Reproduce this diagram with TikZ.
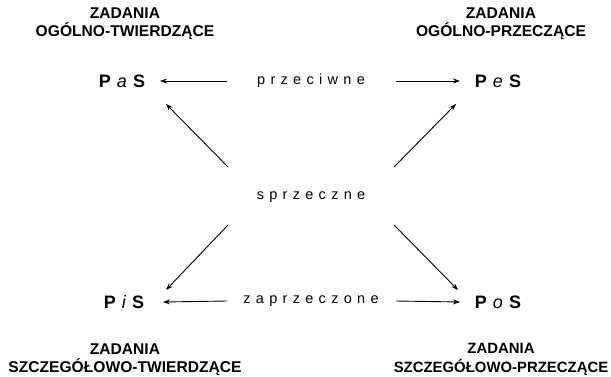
\documentclass[tikz,border=0pt]{standalone}
\usepackage{fontspec}
\setmainfont{Liberation Sans}
\usetikzlibrary{arrows.meta}
\newlength\spgap
\setlength\spgap{5.3pt}
\def\sptext#1{\sptextA#1\relax}
\def\sptextA#1#2{#1\ifx\relax#2\else\hspace{\spgap}\expandafter\sptextA\expandafter#2\fi}
\newcommand\prop[1]{{\bfseries P}\hspace{6pt}\textit{#1}\hspace{6pt}{\bfseries S}}
\begin{document}
\begin{tikzpicture}[x=1pt,y=-1pt,
  header/.style={align=center,font=\fontsize{15.6}{18.3}\selectfont\bfseries,inner sep=0pt},
  propnode/.style={font=\fontsize{18}{20}\selectfont,inner sep=0pt},
  rel/.style={font=\fontsize{14.5}{16}\selectfont,inner sep=0pt},
  arr/.style={line width=0.9pt,-{Stealth[length=7pt,width=5pt]}}]
\useasboundingbox (0,0) rectangle (611,377);
% headers
\node[header] (hTL) at (125,24) {ZADANIA\\OGÓLNO-TWIERDZĄCE};
\node[header] (hTR) at (501,24) {ZADANIA\\OGÓLNO-PRZECZĄCE};
\node[header] (hBL) at (125,359.5) {ZADANIA\\SZCZEGÓŁOWO-TWIERDZĄCE};
\node[header,font=\fontsize{14.9}{18.3}\selectfont\bfseries] (hBR) at (501,359.5) {ZADANIA\\SZCZEGÓŁOWO-PRZECZĄCE};
% propositions
\node[propnode] (PaS) at (122,81) {\prop{a}};
\node[propnode] (PeS) at (498,81) {\prop{e}};
\node[propnode] (PiS) at (124,302) {\prop{i}};
\node[propnode] (PoS) at (498,302) {\prop{o}};
% relations
\node[rel] (prz) at (311,81) {\sptext{przeciwne}};
\node[rel] (spr) at (311,197) {\sptext{sprzeczne}};
\node[rel] (zap) at (311,301) {\sptext{zaprzeczone}};
% arrows
\draw[arr] ([xshift=-84]prz.center) -- ([xshift=38]PaS.center);
\draw[arr] ([xshift=85]prz.center) -- ([xshift=-38]PeS.center);
\draw[arr] ([xshift=-84]zap.center) -- ([xshift=39]PiS.center);
\draw[arr] ([xshift=85]zap.center) -- ([xshift=-38]PoS.center);
\draw[arr] ([shift={(-83,-30)}]spr.center) -- ([shift={(44,23)}]PaS.center);
\draw[arr] ([shift={(83,-30)}]spr.center) -- ([shift={(-42,23)}]PeS.center);
\draw[arr] ([shift={(-83,28)}]spr.center) -- ([shift={(42,-12)}]PiS.center);
\draw[arr] ([shift={(83,28)}]spr.center) -- ([shift={(-40,-12)}]PoS.center);
\end{tikzpicture}
\end{document}
